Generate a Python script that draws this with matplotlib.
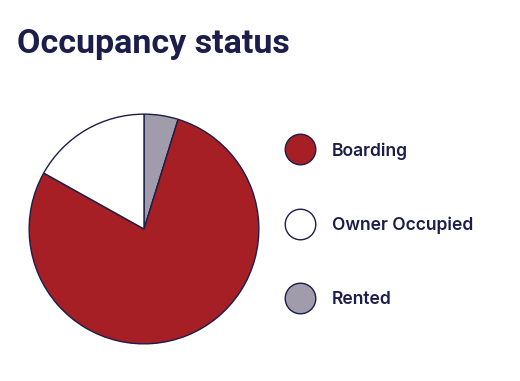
import matplotlib.pyplot as plt
from matplotlib.lines import Line2D

# data
labels = ["Boarding", "Owner Occupied", "Rented"]
shares = [78.3, 16.9, 4.8]
colors = ["#A51F24", "#FFFFFF", "#A09CAC"]

EDGE = "#1B1D4A"
TEXT = "#1B1D4A"

fig = plt.figure(figsize=(5.2, 3.81), dpi=100)

# title
fig.text(17 / 520, 1 - 53 / 381, "Occupancy status", fontsize=24.5,
         fontweight="bold", color=TEXT, va="baseline", ha="left",
         family="Roboto")

# pie, clockwise from top: Rented, Boarding, Owner Occupied
order = [2, 0, 1]
ax = fig.add_axes([28 / 520, 36 / 381, 232 / 520, 232 / 381])
ax.pie([shares[i] for i in order], colors=[colors[i] for i in order],
       startangle=90, counterclock=False, radius=1,
       wedgeprops=dict(edgecolor=EDGE, linewidth=1.0))
ax.set_xlim(-1.01, 1.01)
ax.set_ylim(-1.01, 1.01)
ax.set_aspect("equal")
ax.axis("off")

# legend
handles = [Line2D([], [], linestyle="none", marker="o", markersize=22,
                  markerfacecolor=c, markeredgecolor=EDGE, markeredgewidth=1.0)
           for c in colors]
leg = fig.legend(handles, labels, loc="upper left",
                 bbox_to_anchor=(282 / 520, 1 - 142 / 381),
                 frameon=False, labelspacing=3.27,
                 handletextpad=0.85, borderaxespad=0, borderpad=0,
                 prop=dict(family=["Inter", "DejaVu Sans"], weight="semibold", size=12.6))
for t in leg.get_texts():
    t.set_color(TEXT)

fig.savefig("out.png", dpi=100)
